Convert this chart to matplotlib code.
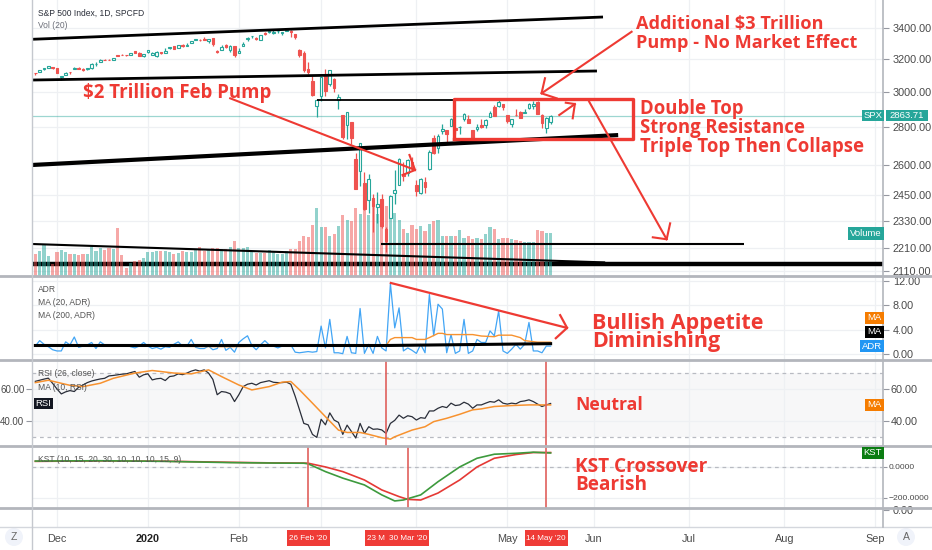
import numpy as np
import pandas as pd
import matplotlib
matplotlib.use("Agg")
import matplotlib.pyplot as plt
from matplotlib.patches import Rectangle, Circle
from matplotlib.lines import Line2D
from matplotlib.transforms import IdentityTransform
from matplotlib.ticker import NullLocator, NullFormatter

# ---------------------------------------------------------------- data
first_bar = "2019-11-22"
last_bar = "2020-05-15"
holidays = ["2019-11-28", "2019-12-25", "2020-01-01", "2020-01-20", "2020-02-17",
            "2020-04-10", "2020-05-25", "2020-07-03", "2020-09-07"]

opens = [3111.4, 3117.4, 3134.9, 3145.5, 3147.2,
         3143.9, 3087.4, 3103.5, 3119.2, 3134.6, 3141.9, 3135.4, 3135.8, 3141.2, 3166.7, 3183.6, 3195.4, 3195.2, 3192.3, 3223.3, 3226.1, 3225.5, 3227.2, 3247.2, 3240.1, 3215.2,
         3244.7, 3226.4, 3217.6, 3241.9, 3238.6, 3266.0, 3281.0, 3271.1, 3285.4, 3282.3, 3303.0, 3323.7, 3321.0, 3330.0, 3315.8, 3333.1, 3247.2, 3255.4, 3289.5, 3256.5, 3282.3,
         3235.7, 3280.6, 3324.9, 3344.9, 3335.5, 3318.3, 3365.9, 3370.5, 3365.9, 3378.1, 3369.0, 3380.4, 3380.5, 3360.5, 3257.6, 3238.9, 3139.9, 3062.5, 2916.9,
         2974.3, 3096.5, 3045.8, 3075.7, 2954.2, 2863.9, 2813.5, 2825.6, 2630.9, 2570.0, 2508.6, 2425.7, 2436.5, 2393.5, 2431.9, 2290.7, 2344.4, 2457.8, 2501.3, 2555.9, 2559.0, 2614.7,
         2498.1, 2458.5, 2514.9, 2578.3, 2738.7, 2685.0, 2777.0, 2782.5, 2805.1, 2795.6, 2799.3, 2842.4, 2845.6, 2784.8, 2787.9, 2810.4, 2812.6, 2854.7, 2910.0, 2918.5, 2930.9,
         2869.1, 2815.0, 2868.9, 2883.1, 2878.3, 2908.8, 2915.5, 2939.5, 2865.9, 2794.5, 2830.0]
highs = [3112.9, 3133.8, 3142.7, 3154.3, 3150.3,
         3144.3, 3094.1, 3119.4, 3119.4, 3150.6, 3148.9, 3142.1, 3143.9, 3176.3, 3182.7, 3197.7, 3198.2, 3198.5, 3205.5, 3225.6, 3227.8, 3226.4, 3240.1, 3247.9, 3240.9, 3231.7,
         3258.1, 3246.2, 3246.8, 3244.9, 3267.1, 3275.6, 3282.9, 3288.1, 3294.2, 3298.7, 3317.1, 3329.9, 3329.8, 3337.8, 3326.9, 3334.0, 3258.8, 3285.8, 3293.5, 3285.9, 3282.3,
         3268.4, 3306.9, 3337.6, 3348.0, 3341.4, 3352.3, 3375.6, 3381.5, 3385.1, 3380.7, 3375.0, 3393.5, 3389.2, 3360.8, 3259.8, 3247.0, 3182.5, 3097.1, 2959.7,
         3091.0, 3136.7, 3131.0, 3083.0, 2985.9, 2863.9, 2882.6, 2825.6, 2661.0, 2711.3, 2563.0, 2553.9, 2453.6, 2467.0, 2453.0, 2300.7, 2449.7, 2571.4, 2637.0, 2615.9, 2631.8, 2641.4,
         2522.8, 2533.2, 2538.2, 2676.9, 2756.9, 2760.8, 2818.6, 2782.5, 2851.9, 2801.9, 2806.5, 2879.2, 2869.0, 2785.5, 2815.1, 2844.9, 2842.7, 2887.7, 2921.2, 2954.9, 2930.9,
         2869.1, 2844.2, 2898.2, 2891.1, 2901.9, 2932.2, 2944.3, 2945.8, 2874.1, 2852.8, 2865.0]
lows = [3099.3, 3117.4, 3131.0, 3143.4, 3139.3,
        3110.8, 3070.3, 3102.5, 3103.8, 3134.6, 3135.5, 3126.1, 3133.2, 3138.5, 3156.5, 3183.6, 3191.0, 3191.1, 3192.3, 3216.0, 3222.3, 3220.5, 3227.2, 3234.4, 3216.6, 3212.0,
        3235.5, 3222.3, 3214.6, 3232.4, 3236.7, 3263.7, 3260.9, 3268.4, 3277.0, 3280.7, 3303.0, 3318.9, 3316.6, 3320.0, 3301.9, 3281.5, 3234.5, 3253.2, 3271.9, 3242.8, 3214.7,
        3235.7, 3280.6, 3313.8, 3334.4, 3322.1, 3317.8, 3352.7, 3369.7, 3360.5, 3366.2, 3355.6, 3378.8, 3341.0, 3328.5, 3214.7, 3118.8, 3109.0, 2977.4, 2855.8,
        2945.2, 2976.6, 3034.4, 2999.8, 2901.5, 2734.4, 2734.0, 2707.2, 2478.9, 2492.4, 2380.9, 2367.0, 2280.5, 2319.8, 2295.6, 2191.9, 2344.4, 2407.5, 2500.7, 2520.0, 2545.3, 2571.2,
        2447.5, 2455.8, 2460.0, 2574.6, 2657.7, 2663.3, 2762.4, 2721.2, 2805.1, 2761.5, 2764.3, 2830.9, 2820.4, 2727.1, 2776.0, 2794.3, 2791.8, 2852.9, 2860.7, 2912.2, 2892.5,
        2821.6, 2797.9, 2863.6, 2847.7, 2876.5, 2902.9, 2903.4, 2869.6, 2793.2, 2766.6, 2816.8]
closes = [3110.3, 3133.6, 3140.5, 3153.6, 3141.0,
          3113.9, 3093.2, 3112.8, 3117.4, 3145.9, 3136.0, 3132.5, 3141.6, 3168.6, 3168.8, 3191.5, 3192.5, 3191.1, 3205.4, 3221.2, 3224.0, 3223.4, 3239.9, 3240.0, 3221.3, 3230.8,
          3257.9, 3234.9, 3246.3, 3237.2, 3253.1, 3274.7, 3265.4, 3288.1, 3283.2, 3289.3, 3316.8, 3329.6, 3320.8, 3321.8, 3325.5, 3295.5, 3243.6, 3276.2, 3273.4, 3283.7, 3225.5,
          3248.9, 3297.6, 3334.7, 3345.8, 3327.7, 3352.1, 3357.8, 3379.5, 3373.9, 3380.2, 3370.3, 3386.2, 3373.2, 3337.8, 3225.9, 3128.2, 3116.4, 2978.8, 2954.2,
          3090.2, 3003.4, 3130.1, 3023.9, 2972.4, 2746.6, 2882.2, 2741.4, 2480.6, 2711.0, 2386.1, 2529.2, 2398.1, 2409.4, 2304.9, 2237.4, 2447.3, 2475.6, 2630.1, 2541.5, 2626.7, 2584.6,
          2470.5, 2526.9, 2488.7, 2663.7, 2659.4, 2750.0, 2789.8, 2761.6, 2846.1, 2783.4, 2799.6, 2874.6, 2823.2, 2736.6, 2799.3, 2797.8, 2836.7, 2878.5, 2863.4, 2939.5, 2912.4,
          2830.7, 2842.7, 2868.4, 2848.4, 2881.2, 2929.8, 2930.3, 2870.1, 2820.0, 2852.5, 2863.71]
volume = [2.2, 2.5, 3.1, 2.0, 1.2, 2.4, 2.6, 2.4, 2.2, 2.2, 2.1, 2.2, 2.2, 2.9, 2.5,
          2.8, 2.6, 2.8, 2.7, 4.8, 2.1, 0.8, 1.3, 1.5, 1.6, 1.8, 2.4, 2.4, 2.5, 2.5,
          2.5, 2.4, 2.2, 2.3, 2.5, 2.4, 2.4, 2.6, 2.9, 2.5, 2.7, 2.8, 2.8, 2.7, 2.7,
          2.9, 3.5, 2.8, 2.8, 2.9, 2.5, 2.3, 2.3, 2.3, 2.6, 2.5, 2.2, 2.2, 2.5, 2.7,
          2.7, 3.5, 4.0, 3.9, 5.1, 6.8, 4.9, 4.9, 4.0, 4.2, 5.0, 6.1, 5.6, 5.5, 6.8,
          6.2, 6.7, 6.1, 7.0, 6.2, 7.2, 7.0, 6.2, 6.3, 5.6, 4.7, 4.3, 5.1, 4.7, 5.0,
          4.5, 5.2, 5.5, 5.6, 4.0, 4.0, 4.0, 4.0, 4.6, 3.8, 4.0, 3.7, 3.8, 3.7, 4.2,
          4.9, 4.7, 3.7, 3.8, 3.8, 3.7, 3.6, 3.5, 3.4, 3.4, 3.4, 4.6, 4.5, 4.3, 4.3]
adr = [1.3, 2.2, 1.6, 1.2, 0.7, 0.5, 0.5, 2.0, 1.5, 2.8, 1.1, 1.3, 1.5, 1.9, 0.9,
       2.0, 1.5, 1.4, 1.3, 1.3, 1.4, 1.5, 1.2, 1.0, 1.3, 1.9, 1.3, 0.9, 1.1, 0.8,
       1.2, 1.1, 1.6, 2.0, 1.3, 1.3, 2.4, 1.1, 0.9, 0.9, 1.3, 0.7, 0.9, 2.4, 0.6,
       1.1, 0.3, 1.9, 2.5, 3.0, 1.4, 0.7, 1.5, 2.2, 1.5, 1.3, 1.0,
       1.3, 1.4, 1.5, 0.3, 0.2, 0.3, 0.4, 0.3, 0.4, 4.6,
       1.0, 5.7, 0.2, 0.2, 0.05, 2.9, 0.2, 0.1, 7.5, 0.1,
       1.6, 0.1, 2.9, 1.0, 0.5, 11.6, 4.3, 7.6, 0.5, 1.0,
       0.6, 0.1, 1.6, 0.2, 9.8, 3.0, 8.2, 7.4, 0.2, 3.2,
       0.1, 0.5, 5.7, 0.1, 0.5, 2.4, 1.9, 1.9, 3.8, 3.0,
       7.1, 0.5, 0.1, 0.8, 1.6, 0.8, 1.6, 5.2, 0.5, 0.5,
       0.2, 1.3, 1.3]
adr_ma20_bar = [0, 25, 45, 57, 65, 75, 81, 82, 83, 87, 88, 90, 91, 93, 94, 95, 101, 103, 106, 107, 110, 112, 113, 116, 119]
adr_ma20 = [1.3, 1.3, 1.2, 1.35, 1.3, 1.4, 1.4, 2.4, 2.7, 2.7, 2.4, 2.4, 2.7, 3.4, 3.4, 3.2, 3.2, 2.96, 2.85, 3.1, 3.1, 2.7, 2.2, 1.95, 1.95]
adr_ma200_bar = [0, 81, 119]
adr_ma200 = [1.4, 1.4, 1.7]
rsi = [64.8, 65.5, 66.2, 66.8, 63.5, 60.0, 56.9, 58.2, 59.0, 58.4, 61.1, 62.5, 64.0, 65.0, 65.7,
       66.3, 66.7, 68.2, 68.5, 68.9, 69.3, 69.5, 70.3, 71.0, 67.4, 68.9, 69.5, 65.7, 66.4, 66.7,
       65.3, 67.8, 68.2, 69.5, 69.0, 70.0, 71.2, 72.0, 71.2, 72.0, 70.0, 66.0, 56.4, 58.4, 58.0,
       57.0, 52.1, 56.4, 61.5, 63.0, 63.6, 62.5, 64.0, 64.6, 65.2, 64.2, 64.0,
       64.0, 64.3, 63.0, 55.5, 47.0, 38.4, 37.5, 31.5, 29.6, 41.0,
       37.5, 45.0, 40.5, 39.0, 31.5, 37.3, 33.3, 29.2, 38.4, 32.1,
       36.3, 34.7, 34.9, 34.3, 32.1, 38.4, 40.3, 43.6, 41.6, 43.2,
       42.6, 40.5, 42.0, 41.6, 46.2, 46.2, 47.9, 49.0, 48.3, 51.1,
       49.6, 50.0, 51.7, 50.5, 47.9, 50.0, 50.0, 51.1, 52.1, 51.7,
       53.2, 51.1, 50.5, 51.1, 50.7, 52.1, 52.5, 53.2, 52.1, 50.5,
       49.0, 50.0, 50.9]
rsi_ma_bar = [0, 3, 8, 11, 15, 18, 23, 27, 32, 36, 40, 43, 47, 50, 54, 57, 59, 61, 64, 67, 70, 72, 75, 77, 80,
              82, 83, 85, 87, 90, 92, 95, 98, 101, 103, 106, 110, 114, 119]
rsi_ma = [64, 65.5, 62.3, 61.5, 63.6, 66.7, 70, 71.6, 70, 69.5, 72, 67.8, 62.5, 59.4, 61.5, 64.3, 64.7, 59.5, 51.1,
          42.6, 34.2, 32.7, 32.7, 31.5, 29.4, 28.5, 30, 32.1, 34.2, 36.3, 39.5, 41.6, 44.1, 46.9, 47.5, 49, 49.6, 50, 50]
kst_bar = [0, 15, 30, 45, 55, 62, 63, 67, 71, 76, 80, 83, 85, 89, 93, 98, 102, 106, 111, 115, 119]
kst = [38, 40, 36, 28, 25, 24, 20, -30, -72, -116, -180, -219, -213, -180, -95, 0, 56, 82, 88, 95, 90]
sig_bar = [0, 15, 30, 45, 55, 62, 63, 67, 71, 76, 80, 84, 86, 89, 93, 98, 102, 106, 111, 115, 119]
kst_signal = [36, 39, 37, 30, 26, 25, 24, 0, -30, -84, -148, -191, -209, -213, -168, -84, 0, 56, 80, 93, 93]

# time-axis labels ("Mar" and "Apr" sit under the date markers in the picture)
month_labels = ["Dec", "2020", "Feb", "", "", "May", "Jun", "Jul", "Aug", "Sep"]
price_ticks = [2110, 2210, 2330, 2450, 2600, 2800, 3000, 3200, 3400]
adr_ticks = [0, 4, 8, 12]
rsi_ticks = [40, 60]
kst_ticks = [-200, 0]

# user drawings on the price pane: (bar, price) end points
black_lines = [((-1.2, 3325), (131.1, 3474)),
               ((-1.2, 3070), (129.7, 3125)),
               ((65.0, 2952), (96.9, 2952)),
               ((-0.8, 2599), (134.6, 2756)),
               ((79.8, 2228), (163.7, 2228)),
               ((-0.8, 2226), (131.6, 2147))]
floor_price = 2139
red_box = ((96.7, 2733), (138.0, 2956))
red_arrows = [((45.0, 2962), (87.7, 2573.5), (86.4, 2650.5), (84.8, 2548.6)),
              ((137.7, 3375), (116.9, 2991), (117.7, 3081), (120.4, 2962)),
              ((121.0, 2866.6), (124.6, 2929), (122.5, 2936.6), (124.1, 2848)),
              ((127.9, 2942.5), (145.8, 2246.7), (142.6, 2255.4), (146.6, 2318))]
adr_arrow = ((82.1, 11.7), (122.8, 4.3), (121.2, 6.4), (120.2, 2.6))
rsi_events = ["2020-03-23", "2020-05-14"]
kst_events = ["2020-02-26", "2020-03-30", "2020-05-14"]
date_badges = [("2020-02-26", "26 Feb '20"), ("2020-03-23", "23 M"),
               ("2020-03-30", "30 Mar '20"), ("2020-05-14", "14 May '20")]

# ---------------------------------------------------------------- calendar
cal = pd.bdate_range(first_bar, "2020-09-30", freq="C", holidays=holidays)
def bar_index(d):
    return cal.get_loc(pd.Timestamp(d))
periods = cal.to_period("M")
months = pd.period_range("2019-12", "2020-09", freq="M")
month_pos = [int(np.nonzero(periods == m)[0][0]) for m in months]

n = len(closes)
x = np.arange(n)
o, h, l, c = map(np.array, (opens, highs, lows, closes))
up = c >= o

# ---------------------------------------------------------------- style
W, H = 932, 550
L, R = 32, 883
XL = (-0.77, 195.76)
UP, DN = "#26a69a", "#ef5350"
RED = "#ee3a33"
GRID = "#eef0f3"
SEP = "#b3b6bc"
TXT = "#4a4a4a"
FONT = "Liberation Sans"

fig = plt.figure(figsize=(W / 100, H / 100), dpi=100)
fig.patch.set_facecolor("white")


def add_ax(top, bottom):
    a = fig.add_axes([L / W, 1 - bottom / H, (R - L) / W, (bottom - top) / H])
    a.set_facecolor("none")
    for s in a.spines.values():
        s.set_visible(False)
    a.set_xticks(month_pos)
    a.tick_params(axis="x", length=0, labelbottom=False)
    a.grid(axis="x", color=GRID, lw=0.9)
    a.set_axisbelow(True)
    a.tick_params(axis="y", length=4, color="#9598a1", labelsize=7.8, labelcolor=TXT, pad=3,
                  left=False, labelleft=False, right=True, labelright=True)
    return a


ax_v = add_ax(0, 276)
ax_p = add_ax(0, 276)
ax_a = add_ax(276, 360)
ax_r = add_ax(360, 446)
ax_k = add_ax(446, 508)
ax_e = add_ax(508, 527)

# ---------------- price pane
ax_p.set_yscale("log")
ax_p.set_ylim(2090.6, 3591.8)
ax_v.set_ylim(0, 27.6)
ax_v.set_yticks([])
ax_v.tick_params(axis="y", right=False, labelright=False)
for p in price_ticks:
    ax_v.plot(XL, [p, p], transform=ax_p.transData, color=GRID, lw=0.9, zorder=0)
ax_v.plot(XL, [floor_price, floor_price], transform=ax_p.transData, color="black", lw=3.2, zorder=1)
ax_v.bar(x, volume, width=0.72, color=np.where(up, UP, DN), alpha=0.5, lw=0, zorder=2)

ax_p.grid(False)
ax_p.vlines(x, l, h, colors=np.where(up, UP, DN), lw=0.9, zorder=2)
ax_p.bar(x[up], (c - o)[up], bottom=o[up], width=0.6, facecolor="white", edgecolor=UP, lw=0.8, zorder=3)
ax_p.bar(x[~up], (o - c)[~up], bottom=c[~up], width=0.6, facecolor=DN, edgecolor=DN, lw=0.8, zorder=3)
ax_p.axhline(closes[-1], color=UP, alpha=0.45, lw=0.9, zorder=1)

lws = [2.0, 2.0, 1.3, 3.0, 1.5, 1.5]
for (p0, p1), lw in zip(black_lines, lws):
    ax_p.plot([p0[0], p1[0]], [p0[1], p1[1]], color="black", lw=lw, zorder=5, solid_capstyle="butt")
(bx0, bp0), (bx1, bp1) = red_box
ax_p.plot([bx0, bx1, bx1, bx0, bx0], [bp0, bp0, bp1, bp1, bp0], color=RED, lw=2.4, zorder=6)
for s, t, wa, wb in red_arrows:
    ax_p.plot([s[0], t[0]], [s[1], t[1]], color=RED, lw=1.5, zorder=6)
    ax_p.plot([wa[0], t[0], wb[0]], [wa[1], t[1], wb[1]], color=RED, lw=1.5, zorder=6)

ax_p.yaxis.set_minor_locator(NullLocator())
ax_p.yaxis.set_minor_formatter(NullFormatter())
ax_p.set_yticks(price_ticks)
ax_p.set_yticklabels([f"{p:.2f}" for p in price_ticks], family=FONT)
ax_p.set_xlim(*XL)
ax_v.set_xlim(*XL)

# ---------------- ADR pane
ax_a.plot(x, adr, color="#42a5f5", lw=0.9, zorder=3)
ax_a.plot(adr_ma20_bar, adr_ma20, color="#f7922f", lw=1.0, zorder=4)
ax_a.plot(adr_ma200_bar, adr_ma200, color="black", lw=2.2, zorder=4)
s, t, wa, wb = adr_arrow
ax_a.plot([s[0], t[0]], [s[1], t[1]], color=RED, lw=1.6, zorder=6)
ax_a.plot([wa[0], t[0], wb[0]], [wa[1], t[1], wb[1]], color=RED, lw=1.6, zorder=6)
ax_a.set_ylim(-0.99, 12.85)
ax_a.set_yticks(adr_ticks)
ax_a.set_yticklabels([f"{v:.2f}" for v in adr_ticks], family=FONT)
ax_a.grid(axis="y", color=GRID, lw=0.9)
ax_a.set_xlim(*XL)

# ---------------- RSI pane
ax_r.fill_between(XL, 30, 70, color="#9598a1", alpha=0.07, lw=0, zorder=0)
for lv in (70, 30):
    ax_r.plot(XL, [lv, lv], color="#b8bbc2", lw=0.9, ls=(0, (3, 3)), zorder=1)
ax_r.plot(x, rsi, color="#2a2e39", lw=0.9, zorder=3)
ax_r.plot(rsi_ma_bar, rsi_ma, color="#f7922f", lw=1.1, zorder=4)
for d in rsi_events:
    ax_r.axvline(bar_index(d), color="#e0605c", lw=1.2, zorder=5)
ax_r.set_ylim(24.2, 78.2)
ax_r.set_yticks(rsi_ticks)
ax_r.set_yticklabels([f"{v:.2f}" for v in rsi_ticks], family=FONT)
ax_r.tick_params(axis="y", left=True, labelleft=True)
ax_r.grid(axis="y", color=GRID, lw=0.9)
ax_r.set_xlim(*XL)
for tk in ax_r.yaxis.get_major_ticks():
    tk.label1.set_fontsize(7.0)
    tk.tick1line.set_markersize(3)
    tk.set_pad(1.5)

# ---------------- KST pane
ax_k.plot(XL, [0, 0], color="#b8bbc2", lw=0.9, ls=(0, (3, 3)), zorder=1)
ax_k.plot(sig_bar, kst_signal, color="#e53935", lw=1.2, zorder=3)
ax_k.plot(kst_bar, kst, color="#3d9a3d", lw=1.2, zorder=4)
for d in kst_events:
    ax_k.axvline(bar_index(d), color="#e0605c", lw=1.2, zorder=5)
ax_k.set_ylim(-264.5, 135)
ax_k.set_yticks(kst_ticks)
ax_k.set_yticklabels([f"{v:.4f}".replace("-", "\u2212") for v in kst_ticks], family=FONT)
ax_k.tick_params(axis="y", labelsize=6.1, pad=1, length=3)
ax_k.grid(axis="y", color=GRID, lw=0.9)
ax_k.set_xlim(*XL)

# ---------------- empty pane + time axis
ax_e.set_ylim(-5.5, 0.5)
ax_e.set_yticks([0])
ax_e.set_yticklabels(["0.00"], family=FONT)
ax_e.set_xlim(*XL)
ax_e.tick_params(axis="x", labelbottom=True, pad=5, labelsize=7.8, labelcolor=TXT)
ax_e.set_xticklabels(month_labels, family=FONT)
for t in ax_e.get_xticklabels():
    if t.get_text() == "2020":
        t.set_fontweight("bold")
        t.set_color("#222")

# ---------------------------------------------------------------- overlays
renderer = fig.canvas.get_renderer()
ID = IdentityTransform()


def ptext(xp, yp, s, **kw):
    return fig.text(xp, H - yp, s, transform=ID, **kw)


def fit_size(s, width, **kw):
    t = fig.text(0, 0, s, fontsize=10, **kw)
    w = t.get_window_extent(renderer).width
    t.remove()
    return 10.0 * width / w


def ypix(ax, v):
    return H - ax.transData.transform((0, v))[1]


def xpix(ax, v):
    return ax.transData.transform((v, 0))[0]


def badge(x0, x1, yc, hh, s, fc, tc="white", fs=6.8, z=20, ha="center", tx=None):
    fig.add_artist(Rectangle((x0, H - yc - hh / 2), x1 - x0, hh, transform=ID,
                             facecolor=fc, edgecolor="none", zorder=z))
    ptext((x0 + x1) / 2 if tx is None else tx, yc, s, ha=ha, va="center", fontsize=fs, color=tc,
          family=FONT, zorder=z + 0.5)


def hline(yp, x0=0, x1=W, color=SEP, lw=2.0):
    fig.add_artist(Line2D([x0, x1], [H - yp, H - yp], transform=ID, color=color, lw=lw, zorder=15))


def vline(xp, y0, y1, color=SEP, lw=1.2):
    fig.add_artist(Line2D([xp, xp], [H - y0, H - y1], transform=ID, color=color, lw=lw, zorder=15))


# pane separators and borders
for yp in (276, 360, 446, 508):
    hline(yp)
hline(527, color="#d4d7dd", lw=1.0)
vline(L, 0, H, color="#c5c8ce", lw=1.0)
vline(R, 0, 527, color="#b3b6bc", lw=1.2)

# legends
small = dict(family=FONT, va="center", ha="left")
fs_small = fit_size("S&P 500 Index, 1D, SPCFD", 106, family=FONT)
ptext(38, 13, "S&P 500 Index, 1D, SPCFD", fontsize=fs_small, color="#2a2e39", **small)
ptext(38, 26, "Vol (20)", fontsize=fs_small, color="#6b6e78", **small)
ptext(38, 289.3, "ADR", fontsize=fs_small, color="#555", **small)
ptext(38, 302.7, "MA (20, ADR)", fontsize=fs_small, color="#555", **small)
ptext(38, 316, "MA (200, ADR)", fontsize=fs_small, color="#555", **small)
ptext(38, 374, "RSI (26, close)", fontsize=fs_small, color="#555", **small)
ptext(38, 387.5, "MA (10, RSI)", fontsize=fs_small, color="#555", **small)
ptext(38, 459, "KST (10, 15, 20, 30, 10, 10, 10, 15, 9)", fontsize=fs_small, color="#555", **small)

# red commentary
BIG = dict(family="Open Sans", weight="bold", color=RED, ha="left", va="center")
groups = [(["$2 Trillion Feb Pump"], 82.7, [93.3], 0, 188),
          (["Additional $3 Trillion", "Pump - No Market Effect"], 636, [24, 42.7], 1, 222),
          (["Double Top", "Strong Resistance", "Triple Top Then Collapse"], 640, [109.3, 128.3, 146.7], 2, 224),
          (["Bullish Appetite", "Diminishing"], 592, [323, 342], 0, 173),
          (["Neutral"], 575, [405], 0, 68),
          (["KST Crossover", "Bearish"], 575, [467, 485.5], 0, 132)]
for lines, xl, ys, ri, wd in groups:
    fs = fit_size(lines[ri], wd, family="Open Sans", weight="bold")
    for s_, yy in zip(lines, ys):
        ptext(xl, yy, s_, fontsize=fs, zorder=18, **BIG)

# value badges
badge(862, 884, ypix(ax_p, closes[-1]), 11.5, "SPX", UP)
badge(885.5, 928, ypix(ax_p, closes[-1]), 11.5, f"{closes[-1]:.2f}", UP)
badge(847.7, 884, ypix(ax_v, volume[-1]), 13, "Volume", UP)
ya = ypix(ax_a, adr[-1])
badge(860, 884, ya, 12, "ADR", "#2196f3")
badge(864.6, 884, ya - 14.3, 12, "MA", "black")
badge(864.6, 884, ya - 28.6, 12, "MA", "#f57c00")
badge(864.6, 884, ypix(ax_r, rsi_ma[-1]), 12, "MA", "#f57c00")
badge(33.6, 52.7, ypix(ax_r, rsi[-1]), 11.5, "RSI", "#131722")
badge(861.7, 884, ypix(ax_k, kst[-1]), 12, "KST", "#0b7d12")

# date badges on the time axis
fs_date = fit_size("26 Feb '20", 38.5, family=FONT)
for k, (d, s_) in enumerate(date_badges):
    xc = xpix(ax_e, bar_index(d))
    if len(s_) < 6:   # partly covered marker: only its left part shows
        badge(xc - 21.5, xc + 1, 538, 16.5, s_, "#ef3b36", fs=fs_date, z=22 + 2 * k,
              ha="left", tx=xc - 19.2)
    else:
        badge(xc - 21.5, xc + 21.5, 538, 16.5, s_, "#ef3b36", fs=fs_date, z=22 + 2 * k)

# corner buttons
for xc, s_ in ((14, "Z"), (906, "A")):
    fig.add_artist(Circle((xc, H - 537), 9, transform=ID, facecolor="#f0f3fa", edgecolor="none", zorder=14))
    ptext(xc, 537, s_, ha="center", va="center", fontsize=7.5, color="#666", family=FONT, zorder=16)

fig.savefig("out.png", dpi=100, facecolor="white")
